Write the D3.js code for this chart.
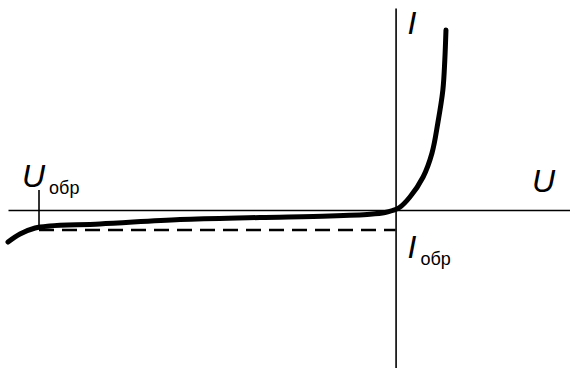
<!DOCTYPE html>
<html>
<head>
<meta charset="utf-8">
<script src="https://cdn.jsdelivr.net/npm/d3@7"></script>
<style>
  body { margin: 0; background: #fff; }
  text { font-family: "Liberation Sans", Arial, sans-serif; fill: #000; }
</style>
</head>
<body>
<div class="canva"></div>
<script>
// Diode I-V characteristic (U in V, I in mA, arbitrary units)
const reverseU = [-100, -96.9, -93, -89.2, -76.3, -55.6, -35, -17, -6.6, -2.7, -0.8]
const reverseI = [-3.2, -2.4, -1.8, -1.6, -1.4, -0.95, -0.75, -0.6, -0.42, -0.25, -0.05]
const forwardU = [1.0, 3.7, 7.1, 9.4, 10.9, 12.2, 12.7, 13.0]
const forwardI = [0.25, 1.3, 3.3, 5.7, 8.7, 12.0, 15.0, 18.0]
const uObr = -92
const iObr = -2.0
const uTickTop = 2.0

const width = 570, height = 368

const svg = d3.select('.canva').append('svg')
              .attr('width', width)
              .attr('height', height)

const x = d3.scaleLinear().domain([-100, 45]).range([8, 570])
const y = d3.scaleLinear().domain([-15.8, 20.2]).range([368, 8])

// axes through the origin
svg.append('g')
   .attr('transform', `translate(0,${y(0)})`)
   .call(d3.axisBottom(x).tickValues([]).tickSizeOuter(0))
   .select('.domain').attr('stroke', '#000').attr('stroke-width', 1.6)

svg.append('g')
   .attr('transform', `translate(${x(0)},0)`)
   .call(d3.axisLeft(y).tickValues([]).tickSizeOuter(0))
   .select('.domain').attr('stroke', '#000').attr('stroke-width', 1.6)

// reverse current level
svg.append('line')
   .attr('x1', x(uObr)).attr('x2', x(0))
   .attr('y1', y(iObr)).attr('y2', y(iObr))
   .attr('stroke', '#000')
   .attr('stroke-width', 2.6)
   .attr('stroke-dasharray', '15,8')

// U_obr tick
svg.append('line')
   .attr('x1', x(uObr)).attr('x2', x(uObr))
   .attr('y1', y(uTickTop)).attr('y2', y(-1.7))
   .attr('stroke', '#000')
   .attr('stroke-width', 1.6)

const points = reverseU.map((u, i) => [u, reverseI[i]])
  .concat(forwardU.map((u, i) => [u, forwardI[i]]))

const line = d3.line()
               .x(d => x(d[0]))
               .y(d => y(d[1]))
               .curve(d3.curveCatmullRom.alpha(0.5))

svg.append('path')
   .datum(points)
   .attr('d', line)
   .attr('fill', 'none')
   .attr('stroke', '#000')
   .attr('stroke-width', 5)
   .attr('stroke-linecap', 'round')

// labels
function label(tx, ty, main, sub) {
  const t = svg.append('text').attr('x', tx).attr('y', ty)
  t.append('tspan').text(main)
   .attr('font-style', 'italic').attr('font-size', 32)
  if (sub)
    t.append('tspan').text(sub).attr('font-size', 18).attr('dx', 4).attr('dy', 7)
}

label(x(0) + 12, 34, 'I')
label(532, 192, 'U')
label(x(0) + 12, 258, 'I', 'обр')
label(22, 187, 'U', 'обр')
</script>
</body>
</html>
